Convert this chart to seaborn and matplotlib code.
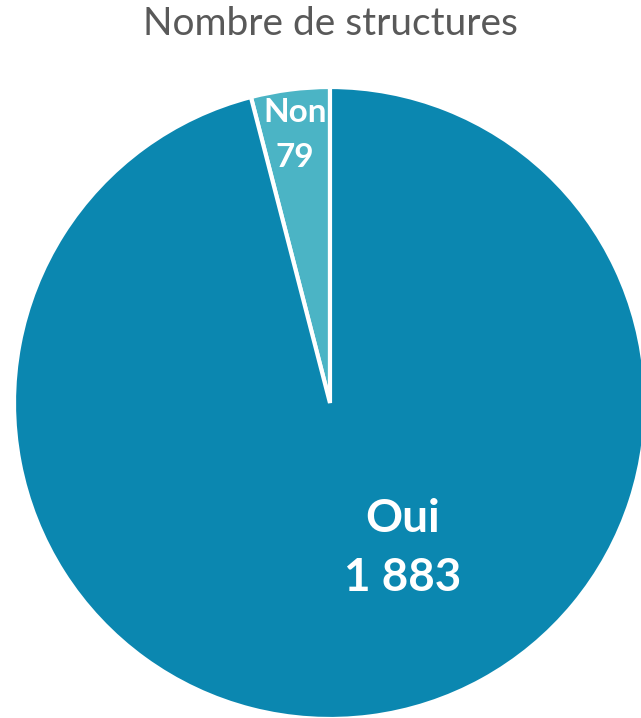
import matplotlib
matplotlib.use("Agg")
import matplotlib.pyplot as plt
import seaborn as sns

sns.set_theme(style="white")
plt.rcParams['font.family'] = ['Lato', 'DejaVu Sans']

# data
categories = ['Non', 'Oui']
counts = [79, 1883]
count_labels = ['79', '1 883']
colors = ['#4BB4C5', '#0B87B0']

fig = plt.figure(figsize=(6.41, 7.18), dpi=100)
ax = fig.add_axes([0, 0, 1, 1])

wedges, _ = ax.pie(counts, colors=colors, startangle=90, counterclock=True,
                   radius=1.0, wedgeprops=dict(edgecolor='white', linewidth=3))

# label positions in data units
label_pos = [(-0.11, 0.848), (0.231, -0.46)]
label_sizes = [24, 33]
label_spacing = [1.7, 1.5]
for cat, lab, (x, y), fs, ls in zip(categories, count_labels, label_pos,
                                    label_sizes, label_spacing):
    ax.text(x, y, f"{cat}\n{lab}", ha='center', va='center', color='white',
            fontsize=fs, fontweight='bold', linespacing=ls)

ax.set_xlim(-330 / 316, (641 - 330) / 316)
ax.set_ylim(-(718 - 403) / 316, 403 / 316)
ax.set_aspect('auto')
ax.axis('off')

fig.text(0.515, 0.966, 'Nombre de structures', ha='center', va='center',
         fontsize=28, color='#595959')

fig.savefig('out.png', dpi=100)
